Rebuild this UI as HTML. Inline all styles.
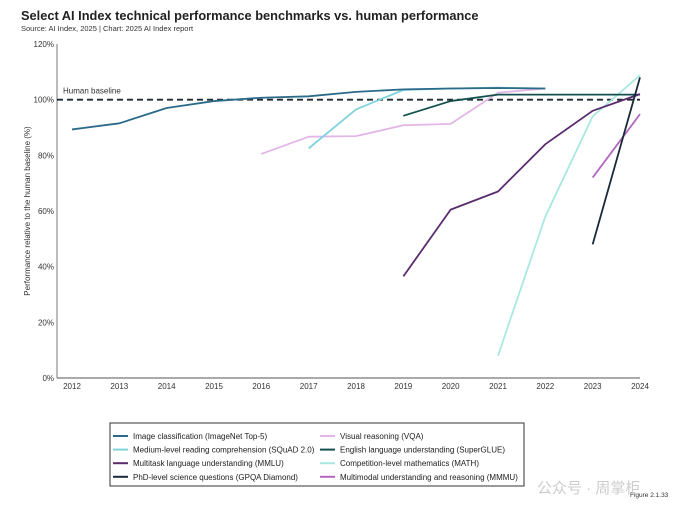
<!DOCTYPE html>
<html><head><meta charset="utf-8"><style>
body{margin:0;background:#fff;font-family:"Liberation Sans",sans-serif;}
#wrap{position:relative;width:700px;height:513px;overflow:hidden;background:#fff}
</style></head><body>
<div id="wrap">
<svg id="svg" width="700" height="513" xmlns="http://www.w3.org/2000/svg">
<text x="21" y="20" font-size="12.8" font-weight="bold" fill="#222">Select AI Index technical performance benchmarks vs. human performance</text>
<text x="21" y="31" font-size="7.5" fill="#333">Source: AI Index, 2025 | Chart: 2025 AI Index report</text>
<text transform="translate(30,211) rotate(-90)" text-anchor="middle" font-size="8" fill="#333">Performance relative to the human baseline (%)</text>
<g id="axes"></g>
<g id="series"></g>
<rect x="110" y="423" width="414" height="63" fill="none" stroke="#333" stroke-width="1"/>
<g id="legend"></g>
<text x="630" y="497" font-size="6.5" fill="#333">Figure 2.1.33</text>
<text x="537" y="493" font-size="15" fill="#ccc" font-family="'Liberation Sans','Noto Sans CJK SC',sans-serif">公众号 · 周掌柜</text>
</svg>
</div>
<script>
const years=[2012,2013,2014,2015,2016,2017,2018,2019,2020,2021,2022,2023,2024];
const yTicks=[0,20,40,60,80,100,120];
const seriesNames=["Image classification (ImageNet Top-5)","Visual reasoning (VQA)","Medium-level reading comprehension (SQuAD 2.0)","English language understanding (SuperGLUE)","Multitask language understanding (MMLU)","Competition-level mathematics (MATH)","PhD-level science questions (GPQA Diamond)","Multimodal understanding and reasoning (MMMU)"];
const imagenetYears=[2012,2013,2014,2015,2016,2017,2018,2019,2020,2021,2022];
const imagenetVals=[89.3,91.5,97,99.5,100.7,101.2,102.8,103.7,104,104.2,104];
const vqaYears=[2016,2017,2018,2019,2020,2021,2022];
const vqaVals=[80.5,86.7,86.9,90.8,91.3,102.5,104];
const squadYears=[2017,2018,2019,2020,2021,2022];
const squadVals=[82.5,96.5,103.5,104,104.3,104];
const superglueYears=[2019,2020,2021,2022,2023,2024];
const superglueVals=[94.2,99.5,101.8,101.8,101.8,101.8];
const mmluYears=[2019,2020,2021,2022,2023,2024];
const mmluVals=[36.5,60.5,67,84,96,102];
const mathYears=[2021,2022,2023,2024];
const mathVals=[8,58,94,108.8];
const gpqaYears=[2023,2024];
const gpqaVals=[48,108];
const mmmuYears=[2023,2024];
const mmmuVals=[72,94.8];
const colors=["#2c6a8a","#e2b6e6","#7fd3dd","#13504f","#5a2c6e","#a9e8e2","#1a2a3a","#b267bf"];
const NS="http://www.w3.org/2000/svg";
const X=y=>72+(y-2012)*(640-72)/12;
const Y=v=>378-v*(378-44)/120;
function mk(tag,attrs,parent){const e=document.createElementNS(NS,tag);for(const k in attrs)e.setAttribute(k,attrs[k]);parent.appendChild(e);return e;}
const ax=document.getElementById('axes');
let yl=mk('line',{x1:57,y1:44,x2:57,y2:378,stroke:'#777','stroke-width':1},ax);


let xl=mk('line',{x1:57,y1:378,x2:640,y2:378,stroke:'#777','stroke-width':1.2},ax);


yTicks.forEach(t=>{const e=mk('text',{x:54,y:Y(t)+3,'text-anchor':'end','font-size':8,fill:'#333'},ax);e.textContent=t+'%';

});
years.forEach(y=>{const e=mk('text',{x:X(y),y:389,'text-anchor':'middle','font-size':8,fill:'#333'},ax);e.textContent=y;

});
let hb=mk('line',{x1:57,y1:Y(100),x2:640,y2:Y(100),stroke:'#1e2a30','stroke-width':1.8,'stroke-dasharray':'6,4'},ax);


let ht=mk('text',{x:63,y:Y(100)-6,'font-size':8,fill:'#333'},ax);ht.textContent='Human baseline';


const data=[[vqaYears,vqaVals,1],[squadYears,squadVals,2],[mathYears,mathVals,5],[imagenetYears,imagenetVals,0],[superglueYears,superglueVals,3],[mmluYears,mmluVals,4],[mmmuYears,mmmuVals,7],[gpqaYears,gpqaVals,6]];
const sg=document.getElementById('series');
const snames=['line-imagenet','line-vqa','line-squad','line-superglue','line-mmlu','line-math','line-gpqa','line-mmmu'];
data.forEach(([ys,vs,i])=>{const p=mk('polyline',{points:ys.map((y,k)=>X(y)+','+Y(vs[k])).join(' '),fill:'none',stroke:colors[i],'stroke-width':1.8,'stroke-linejoin':'round'},sg);

});
const lg=document.getElementById('legend');
seriesNames.forEach((n,i)=>{const col=i%2,row=Math.floor(i/2);const x=col?320:113,y=436+row*13.6;
const l=mk('line',{x1:x,y1:y,x2:x+15,y2:y,stroke:colors[i],'stroke-width':2},lg);


const t=mk('text',{x:x+20,y:y+3,'font-size':8,fill:'#222'},lg);t.textContent=n;

});
</script>
</body></html>
